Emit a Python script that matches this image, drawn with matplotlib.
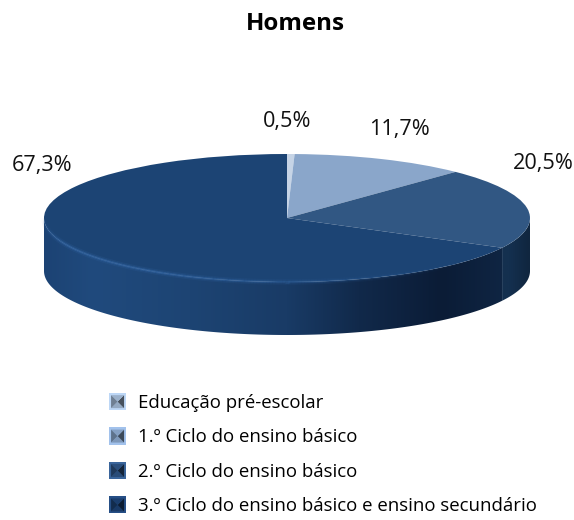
import numpy as np
import matplotlib
matplotlib.use('Agg')
import matplotlib.pyplot as plt
from matplotlib.colors import LinearSegmentedColormap, to_rgb
from matplotlib.collections import LineCollection
from matplotlib.legend_handler import HandlerBase
from matplotlib.patches import Polygon, Patch

categories = ['Educação pré-escolar', '1.º Ciclo do ensino básico',
              '2.º Ciclo do ensino básico',
              '3.º Ciclo do ensino básico e ensino secundário']
values = [0.5, 11.7, 20.5, 67.3]
colors = ['#c6d4e6', '#8aa6ca', '#315783', '#1c4474']
key_colors = ['#a8c0dd', '#8fadd3', '#2f5688', '#1c4275']

W, H = 574, 520
# pie centre and radii, in pixels
cx, cy, rx, ry = 287, 218, 243, 64
depth = 53 / ry

plt.rcParams['font.family'] = ['Open Sans', 'DejaVu Sans']

fig = plt.figure(figsize=(W / 100, H / 100), dpi=100)
ax = fig.add_axes([0, 0, 1, 1])

xlim = (-cx / rx, (W - cx) / rx)
ylim = (-(H - cy) / ry, cy / ry)


def side(th0, th1, cmap):
    # side wall of one slice, angles in degrees clockwise from the top
    th0, th1 = max(th0, 90), min(th1, 270)
    if th1 <= th0:
        return
    th = np.radians(np.linspace(th0, th1, 200))
    x, y = np.sin(th), np.cos(th)
    outline = np.vstack([np.column_stack([x, y]),
                         np.column_stack([x[::-1], y[::-1] - depth])])
    poly = Polygon(outline, closed=True, fc='none', lw=0, transform=ax.transData)
    ax.add_patch(poly)
    grad = np.linspace(0, 1, 512).reshape(1, -1)
    im = ax.imshow(grad, cmap=cmap, extent=(-1, 1, -3, 1.5), aspect='auto', vmin=0, vmax=1)
    im.set_clip_path(poly)


wall3 = LinearSegmentedColormap.from_list('wall3', [
    (0.00, '#1c4374'), (0.10, '#204a7d'), (0.30, '#1d4473'), (0.50, '#193b66'),
    (0.65, '#11294a'), (0.82, '#0b1c36'), (0.92, '#0e2340'), (1.00, '#122a49')])
wall2 = LinearSegmentedColormap.from_list('wall2', [
    (0.00, '#16304f'), (0.90, '#16304f'), (0.96, '#14304f'), (1.00, '#10263f')])

ends = np.cumsum(values) / sum(values) * 360
side(ends[1], ends[2], wall2)
side(ends[2], ends[3], wall3)

ax.pie(values, colors=colors, startangle=90, counterclock=False, radius=1,
       wedgeprops={'linewidth': 0})
ax.set_xlim(*xlim)
ax.set_ylim(*ylim)
ax.set_aspect('auto')
ax.axis('off')

# lighter rim along the front edge of the top
deg = np.linspace(90, 270, 240)
th = np.radians(deg)
pts = np.column_stack([np.sin(th), np.cos(th)])
segs = np.stack([pts[:-1], pts[1:]], axis=1)
mid = np.sin((th[:-1] + th[1:]) / 2)
rim_a = np.clip((0.75 - mid) / 1.3, 0, 1) * 0.75 * np.clip((270 - deg[:-1]) / 25, 0, 1)
for lw, k in [(4.0, 0.3), (1.8, 1.0)]:
    rgba = np.zeros((len(segs), 4))
    rgba[:, :3] = to_rgb('#2f609c')
    rgba[:, 3] = rim_a * k
    ax.add_collection(LineCollection(segs, colors=rgba, linewidths=lw, capstyle='butt'))


class BevelHandler(HandlerBase):
    # small pyramid shaped legend key
    def create_artists(self, legend, orig, xd, yd, w, h, fontsize, trans):
        base = np.array(to_rgb(orig.get_facecolor()[:3]))
        s = min(w, h)
        x0 = -xd + (w - s) / 2
        y0 = -yd + (h - s) / 2
        b = s * 0.12
        mx, my = x0 + s / 2, y0 + s / 2
        o = [(x0, y0), (x0 + s, y0), (x0 + s, y0 + s), (x0, y0 + s)]
        i = [(x0 + b, y0 + b), (x0 + s - b, y0 + b), (x0 + s - b, y0 + s - b), (x0 + b, y0 + s - b)]
        out = [Polygon(o, closed=True, fc=np.clip(base * 1.08 + 0.03, 0, 1), lw=0, transform=trans)]
        shade = [(0, 1, 0.88), (1, 2, 0.42), (2, 3, 0.92), (3, 0, 0.66)]
        for a, b2, k in shade:
            col = np.clip(base * k, 0, 1)
            out.append(Polygon([i[a], i[b2], (mx, my)], closed=True, fc=col, lw=0, transform=trans))
        return out


handles = [Patch(facecolor=c) for c in key_colors]
fs = 13.4
leg = ax.legend(handles, categories, loc='upper left', frameon=False, fontsize=fs,
                bbox_to_anchor=(109 / W, 1 - 393 / H), bbox_transform=fig.transFigure,
                handler_map={Patch: BevelHandler()}, handlelength=0.92, handleheight=1.05,
                handletextpad=0.65, labelspacing=0.83, borderpad=0, borderaxespad=0,
                labelcolor='#000000')

fig.text(295 / W, 1 - 24 / H, 'Homens', fontsize=17.4, fontweight='bold',
         ha='center', va='center', color='black')

label_px = [(287, 122), (399, 129), (543, 163), (42, 165)]
for v, (px, py) in zip(values, label_px):
    fig.text(px / W, 1 - py / H, f'{v:.1f}%'.replace('.', ','), fontsize=15.6,
             ha='center', va='center', color='#111111')

fig.savefig('out.png', dpi=100, facecolor='white')
